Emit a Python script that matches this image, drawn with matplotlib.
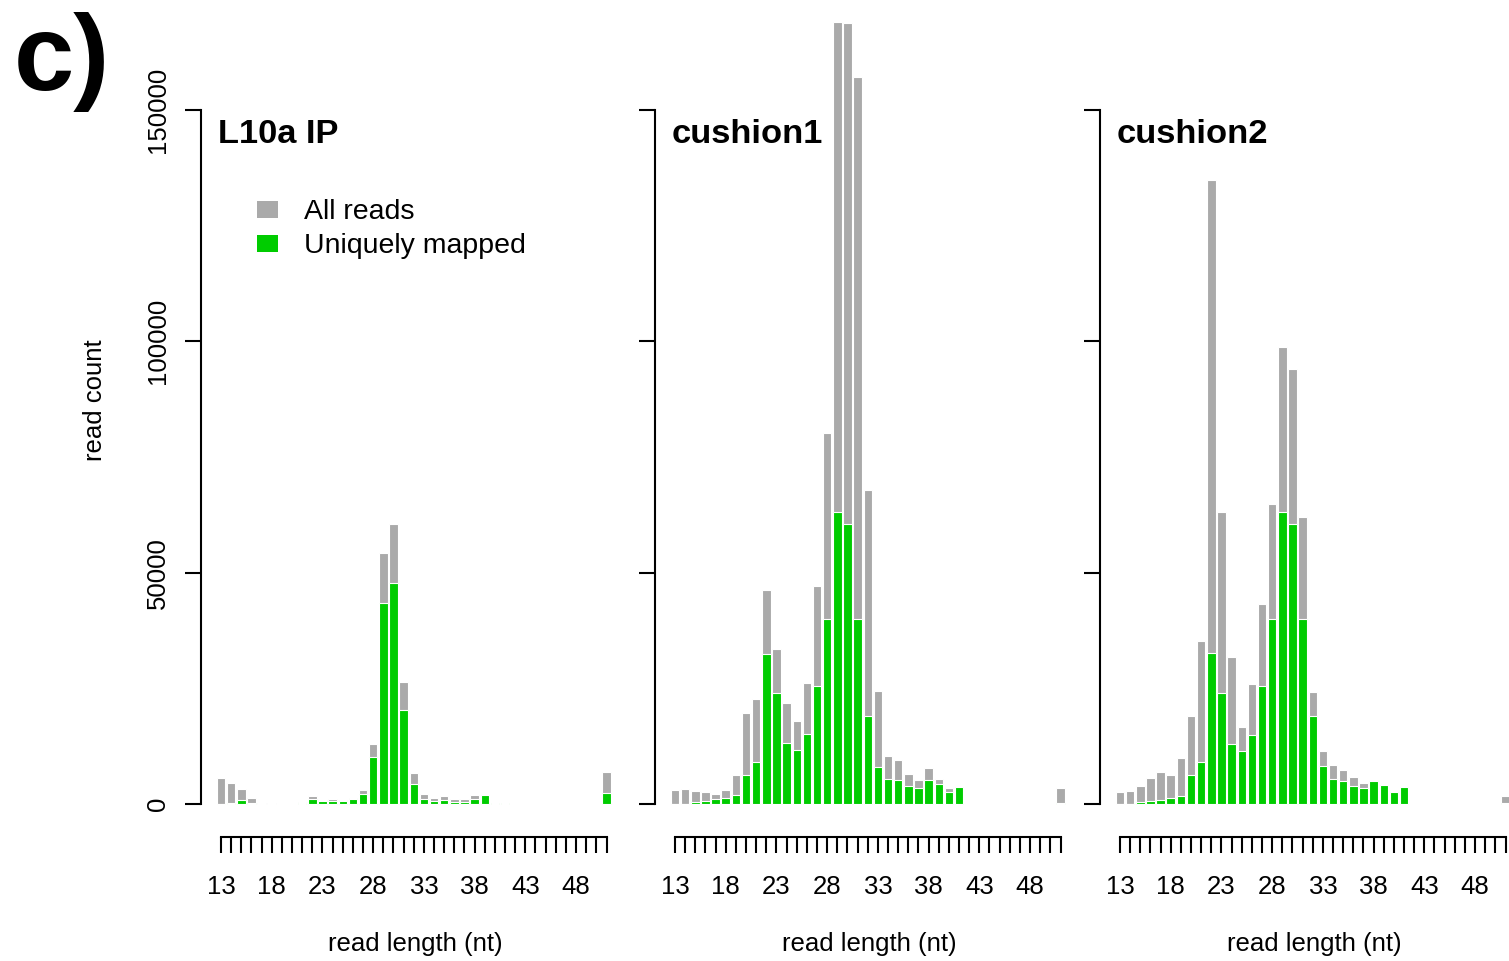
import matplotlib
matplotlib.use("Agg")
import matplotlib.pyplot as plt
from matplotlib.patches import Rectangle

plt.rcParams['font.family'] = ['Liberation Sans', 'DejaVu Sans']

# read lengths 13..51 nt
lengths = list(range(13, 52))

# L10a IP
l10a_all = [5550, 4460, 3240, 1370, 200, 300, 0, 0, 350, 1730,
            780, 1080, 780, 1200, 3020, 13000, 54200, 60500, 26400, 6620,
            2080, 1300, 1730, 1150, 1150, 2000, 1950, 300, 300, 0,
            0, 0, 0, 0, 0, 0, 0, 0, 6840]
l10a_uniq = [0, 300, 860, 290, 100, 100, 0, 0, 300, 1000,
             720, 570, 720, 1150, 2080, 10200, 43400, 47700, 20300, 4390,
             1000, 570, 860, 430, 430, 1000, 1870, 280, 280, 0,
             0, 0, 0, 0, 0, 0, 0, 0, 2300]

# cushion1
c1_all = [3020, 3160, 2880, 2590, 2230, 2950, 6190, 19570, 22590, 46330,
          33600, 21800, 17840, 26100, 47200, 80200, 169000, 168700, 157100, 67900,
          24390, 10290, 9430, 6470, 5180, 7840, 5320, 3520, 3740, 0,
          0, 0, 0, 0, 0, 0, 0, 0, 3520]
c1_uniq = [0, 0, 500, 570, 1000, 1300, 1870, 6260, 9000, 32520,
           24020, 13100, 11650, 15040, 25530, 40070, 63080, 60490, 40070, 19000,
           8060, 5470, 5110, 3880, 3450, 5110, 4240, 2660, 3740, 0,
           0, 0, 0, 0, 0, 0, 0, 0, 150]

# cushion2
c2_all = [2660, 2730, 3880, 5680, 6840, 6260, 9930, 18990, 35180, 134940,
          63160, 31870, 16620, 25830, 43160, 64810, 98690, 93940, 62080, 24100,
          11440, 8490, 7410, 5900, 4460, 4960, 4100, 2520, 3600, 0,
          0, 0, 0, 0, 0, 0, 0, 0, 1800]
c2_uniq = [0, 0, 500, 570, 930, 1220, 1800, 6260, 9000, 32650,
           23950, 13020, 11510, 14960, 25460, 40070, 63080, 60490, 40000, 18990,
           8130, 5400, 5040, 3810, 3380, 4960, 4100, 2520, 3600, 0,
           0, 0, 0, 0, 0, 0, 0, 0, 300]

titles = ["L10a IP", "cushion1", "cushion2"]
all_reads = [l10a_all, c1_all, c2_all]
uniq_reads = [l10a_uniq, c1_uniq, c2_uniq]

yticks = [0, 50000, 100000, 150000]
xlabel_at = list(range(13, 49, 5))

GRAY = "#AAAAAA"
GREEN = "#00CC00"

W, H = 1509, 961
fig = plt.figure(figsize=(W / 100, H / 100), dpi=100)

def fx(px):
    return px / W

def fy(py):
    return 1 - py / H

PT = 0.72           # points per pixel at 100 dpi
per_px = 216.1      # reads per pixel
zero_y = 804        # pixel row of y = 0
plot_w = 425.5
lefts = [201, 655, 1100]
LAB = 18.5

for i in range(3):
    left = lefts[i]
    ax = fig.add_axes([fx(left), fy(zero_y), plot_w / W, zero_y / H])
    ax.set_xlim(11.03, 52.97)
    ax.set_ylim(0, zero_y * per_px)
    ax.patch.set_visible(False)

    ax.bar(lengths, all_reads[i], width=1 / 1.2, color=GRAY,
           edgecolor="white", linewidth=0.8, clip_on=False)
    ax.bar(lengths, uniq_reads[i], width=1 / 1.2, color=GREEN,
           edgecolor="white", linewidth=0.8, clip_on=False)

    for s in ["top", "right"]:
        ax.spines[s].set_visible(False)
    ax.spines["left"].set_bounds(0, 150000)
    ax.spines["bottom"].set_bounds(13, 51)
    ax.spines["bottom"].set_position(("outward", 33 * PT))
    for s in ["left", "bottom"]:
        ax.spines[s].set_linewidth(1.5)

    ax.set_yticks(yticks)
    if i == 0:
        ax.set_yticklabels([str(v) for v in yticks], rotation=90, va="center")
    else:
        ax.set_yticklabels([])
    ax.set_xticks(lengths)
    ax.set_xticklabels([str(v) if v in xlabel_at else "" for v in lengths])
    ax.tick_params(axis="y", length=16 * PT, width=1.5, pad=11, labelsize=LAB)
    ax.tick_params(axis="x", length=16 * PT, width=1.5, pad=16, labelsize=LAB)

    fig.text(fx(left + 17), fy(143), titles[i], fontsize=24.8, fontweight="bold",
             va="baseline", ha="left")
    fig.text(fx(left + 214), fy(944), "read length (nt)", fontsize=LAB,
             ha="center", va="center")

# legend on the first panel
fig.add_artist(Rectangle((fx(257), fy(218)), 21 / W, 17 / H,
                         transform=fig.transFigure, color=GRAY, lw=0))
fig.add_artist(Rectangle((fx(257), fy(252)), 21 / W, 17 / H,
                         transform=fig.transFigure, color=GREEN, lw=0))
fig.text(fx(304), fy(219), "All reads", fontsize=20.5, va="baseline")
fig.text(fx(304), fy(253), "Uniquely mapped", fontsize=20.5, va="baseline")

fig.text(fx(95), fy(400), "read count", fontsize=LAB, rotation=90,
         ha="center", va="center")
fig.text(fx(14), fy(90), "c)", fontsize=78, fontweight="bold", va="baseline")

fig.savefig("out.png", dpi=100)
